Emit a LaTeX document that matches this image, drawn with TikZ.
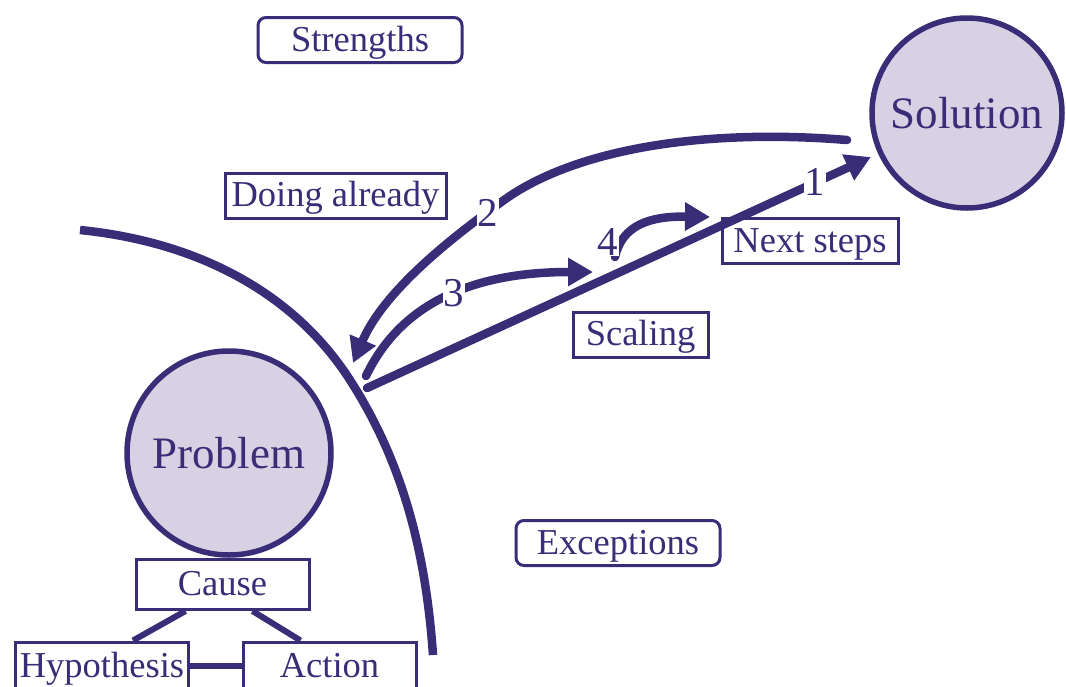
\documentclass[tikz,border=0pt]{standalone}
\usepackage{fontspec}
\setmainfont{Liberation Serif}
\usetikzlibrary{arrows.meta,calc}
\definecolor{ink}{RGB}{58,45,120}
\definecolor{lav}{RGB}{216,208,227}
\begin{document}
\begin{tikzpicture}[x=1pt,y=-1pt,
  lbl/.style={draw=ink,line width=3pt,text=ink,font=\fontsize{36.5}{40}\selectfont,inner sep=0pt,minimum height=45pt,text height=25pt,text depth=3pt},
  rlbl/.style={lbl,rounded corners=8pt},
  big/.style={circle,draw=ink,line width=5.5pt,fill=lav,text=ink,font=\fontsize{45}{50}\selectfont},
  num/.style={fill=white,text=ink,font=\fontsize{41}{44}\selectfont,inner sep=0.5pt},
  arr/.style={draw=ink,line width=8.5pt,line cap=round,-{Triangle[length=25pt,width=27pt]}},
  link/.style={draw=ink,line width=6pt},
  arc/.style={draw=ink,line width=8.5pt}
]
\useasboundingbox (0,0) rectangle (1066,686);
\fill[white] (0,0) rectangle (1066,686);

% big dividing arc
\draw[arc] (80,230) .. controls (190,241) and (290.6,287.6) .. (350,380)
                    .. controls (404,464) and (426,555) .. (433,655);

% circles
\node[big,minimum size=190pt] (sol) at (967,113) {Solution};
\node[big,minimum size=204pt] (prob) at (229,453) {Problem};

% label boxes
\node[rlbl,minimum width=204pt] (str) at (360,40) {Strengths};
\node[lbl,minimum width=221pt] (doing) at (335.5,195.5) {Doing already};
\node[lbl,minimum width=176pt] (next) at (810,241) {Next steps};
\node[lbl,minimum width=135pt] (scal) at (640.5,334.5) {Scaling};
\node[rlbl,minimum width=204pt] (exc) at (618,543) {Exceptions};
\node[lbl,minimum width=173pt,minimum height=50pt] (cause) at (222.5,584.5) {Cause};
\node[lbl,minimum width=173pt,minimum height=48pt] (hyp) at (102,666) {Hypothesis};
\node[lbl,minimum width=173pt,minimum height=48pt] (act) at (329.5,666) {Action};

% bottom links
\draw[link] ([xshift=-37pt]cause.south) -- ([xshift=31pt]hyp.north);
\draw[link] ([xshift=30pt]cause.south) -- ([xshift=-29pt]act.north);
\draw[link] (hyp.east) -- (act.west);

% arrows
\coordinate (o1) at (367,388);
\coordinate (s2) at (847,140);
\coordinate (e2) at (353,363);
\coordinate (s3) at (366,376);
\coordinate (e3) at (593,272);
\coordinate (s4) at (615,257);
\coordinate (e4) at (710,217);
\draw[arr,shorten >=8pt] (o1) -- (sol);
\draw[arr] (s2) .. controls (700,128) and (570,150) .. (500,203)
                .. controls (430,253) and (380,300) .. (e2);
\draw[arr] (s3) .. controls (400,305) and (470,272) .. (e3);
\draw[arr] (s4) .. controls (622,225) and (650,216) .. (e4);

% numbers
\node[num] (n1) at (815,182) {1};
\node[num] (n2) at (488,213) {2};
\node[num] (n3) at (454,293) {3};
\node[num] (n4) at (608,242) {4};
\end{tikzpicture}
\end{document}
